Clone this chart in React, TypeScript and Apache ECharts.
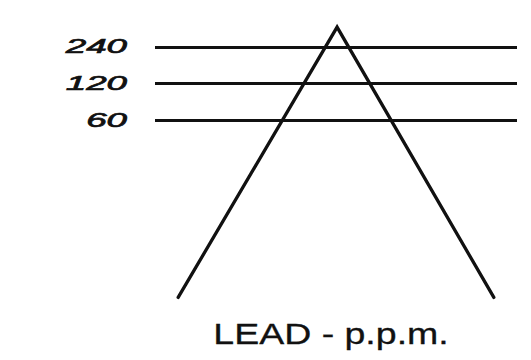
import React, { useEffect, useRef } from "react";
import * as echarts from "echarts";

// Concentration levels (p.p.m.) drawn as horizontal reference lines
const levels = [240, 120, 60];
const levelLabels = ["240", "120", "60"];

// Triangle outline (x position in arbitrary units, y in p.p.m. on a log scale)
const triangleX = [6.4, 50.3, 93.6];
const triangleY = [2.1, 350, 2.1];

const axisTitle = "LEAD - p.p.m.";

export default function App() {
  const ref = useRef<HTMLDivElement>(null);

  useEffect(() => {
    if (!ref.current) return;
    const chart = echarts.init(ref.current, null, { renderer: "svg" });
    const ink = "#111111";
    chart.setOption({
      animation: false,
      backgroundColor: "#ffffff",
      grid: { left: 155, right: 14, top: 20, bottom: 60 },
      xAxis: { type: "value", min: 0, max: 100, show: false },
      yAxis: { type: "log", logBase: 2, min: 2, max: 400, show: false },
      series: [
        {
          type: "line",
          data: triangleX.map((x, i) => [x, triangleY[i]]),
          showSymbol: false,
          symbol: "none",
          lineStyle: { color: ink, width: 3.3, join: "miter", cap: "round" },
          markLine: {
            silent: true,
            symbol: ["none", "none"],
            label: { show: false },
            lineStyle: { type: "solid", color: ink, width: 2.8 },
            data: levels.map((v) => ({ yAxis: v })),
          },
        },
      ],
    });

    const gridLeft = 155;
    const labelTexts = levels.map((v, i) => {
      const py = chart.convertToPixel({ yAxisIndex: 0 }, v) as number;
      return {
        type: "text",
        x: gridLeft - 28,
        y: py - 1,
        scaleX: 1.75,
        style: {
          text: levelLabels[i],
          align: "right",
          verticalAlign: "middle",
          fontFamily: "Liberation Sans",
          fontStyle: "italic",
          fontSize: 21,
          fill: ink,
          stroke: ink,
          lineWidth: 0.7,
        },
      };
    });
    const cx = chart.convertToPixel({ xAxisIndex: 0 }, 50) as number;
    chart.setOption({
      graphic: [
        ...labelTexts,
        {
          type: "text",
          x: cx - 5,
          y: 333,
          scaleX: 1.25,
          style: {
            text: axisTitle,
            align: "center",
            verticalAlign: "middle",
            fontFamily: "Liberation Sans",
            fontSize: 30,
            fill: ink,
            stroke: ink,
            lineWidth: 0.3,
          },
        },
      ],
    });

    return () => chart.dispose();
  }, []);

  return (
    <div
      ref={ref}
      style={{ position: "fixed", left: 0, top: 0, width: 531, height: 360, background: "#fff" }}
    />
  );
}
